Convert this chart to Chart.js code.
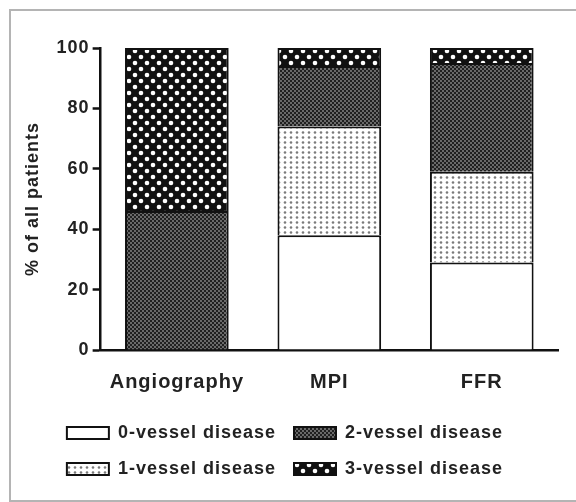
<!DOCTYPE html>
<html lang="en">
<head>
    <meta charset="UTF-8">
    <title>Vessel disease by modality</title>
    <style>
        body {
            margin: 0;
            background: #fff;
            overflow: hidden;
        }

        .wrap {
            position: relative;
            width: 576px;
            height: 502px;
            overflow: hidden;
        }

        .frame {
            position: absolute;
            left: 9px;
            top: 9px;
            width: 580px;
            height: 489px;
            border: 2px solid #b4b4b4;
            pointer-events: none;
        }
    </style>
</head>
<body>
    <div class="wrap">
        <canvas id="chart"></canvas>
        <div class="frame"></div>
    </div>

    <script src="https://cdn.jsdelivr.net/npm/chart.js"></script>
    <script>
        // values (% of all patients)
        const categories = ['Angiography', 'MPI', 'FFR'];
        const seriesNames = ['0-vessel disease', '1-vessel disease', '2-vessel disease', '3-vessel disease'];
        const vessel0 = [0, 38, 29];
        const vessel1 = [0, 36, 30];
        const vessel2 = [46, 20, 36];
        const vessel3 = [54, 6, 5];
        const yTicks = [0, 20, 40, 60, 80, 100];

        // small tiles used as fill patterns
        function makePattern(w, h, bg, dotColor, dots, r) {
            const c = document.createElement('canvas');
            c.width = w;
            c.height = h;
            const g = c.getContext('2d');
            g.fillStyle = bg;
            g.fillRect(0, 0, w, h);
            g.fillStyle = dotColor;
            dots.forEach(d => {
                g.beginPath();
                g.arc(d[0], d[1], r, 0, Math.PI * 2);
                g.fill();
            });
            return g.createPattern(c, 'repeat');
        }

        const ctx = document.getElementById('chart').getContext('2d');

        const fills = [
            '#ffffff',
            makePattern(6, 5, '#ffffff', '#7a7a7a', [[3, 2.5]], 1.3),
            makePattern(4, 4, '#202020', '#8e8e8e', [[1, 1], [3, 3]], 0.9),
            makePattern(12, 12, '#111111', '#ffffff', [[3, 3], [9, 9]], 2.3)
        ];

        const seriesValues = [vessel0, vessel1, vessel2, vessel3];
        const legendRank = { 0: 0, 2: 1, 1: 2, 3: 3 };
        const font = "'Liberation Sans', Arial, sans-serif";

        // the figure's lettering is slightly spaced out
        const spacing = {
            id: 'spacing',
            beforeUpdate: chart => { chart.ctx.letterSpacing = '1px'; },
            beforeDraw: chart => { chart.ctx.letterSpacing = '1px'; }
        };

        new Chart(ctx, {
            type: 'bar',
            plugins: [spacing],
            data: {
                labels: categories,
                datasets: seriesValues.map((vals, i) => ({
                    label: seriesNames[i],
                    data: vals,
                    backgroundColor: fills[i],
                    borderColor: '#111',
                    borderWidth: 2,
                    barPercentage: 0.68,
                    categoryPercentage: 1
                }))
            },
            options: {
                responsive: true,
                maintainAspectRatio: false,
                animation: false,
                layout: {
                    padding: { left: 12, right: 18, top: 48, bottom: 14 }
                },
                plugins: {
                    tooltip: { enabled: false },
                    legend: {
                        position: 'bottom',
                        labels: {
                            boxWidth: 42,
                            boxHeight: 12,
                            padding: 18,
                            color: '#222',
                            font: { family: font, size: 18, weight: 'bold' },
                            sort: (a, b) => legendRank[a.datasetIndex] - legendRank[b.datasetIndex]
                        }
                    }
                },
                scales: {
                    x: {
                        stacked: true,
                        grid: { display: false },
                        border: { display: true, color: '#111', width: 2.5 },
                        ticks: {
                            color: '#222',
                            padding: 14,
                            font: { family: font, size: 20, weight: 'bold', lineHeight: 1.0 }
                        }
                    },
                    y: {
                        stacked: true,
                        min: 0,
                        max: 100,
                        afterBuildTicks: axis => {
                            axis.ticks = yTicks.map(v => ({ value: v }));
                        },
                        grid: {
                            drawOnChartArea: false,
                            drawTicks: true,
                            tickLength: 8,
                            tickWidth: 2.5,
                            tickColor: '#111'
                        },
                        border: { display: true, color: '#111', width: 2.5 },
                        ticks: {
                            color: '#222',
                            padding: 3,
                            font: { family: font, size: 18, weight: 'bold' }
                        },
                        title: {
                            display: true,
                            text: '% of all patients',
                            color: '#222',
                            padding: { top: 10, bottom: 10 },
                            font: { family: font, size: 18, weight: 'bold' }
                        }
                    }
                }
            }
        });
    </script>
</body>
</html>
